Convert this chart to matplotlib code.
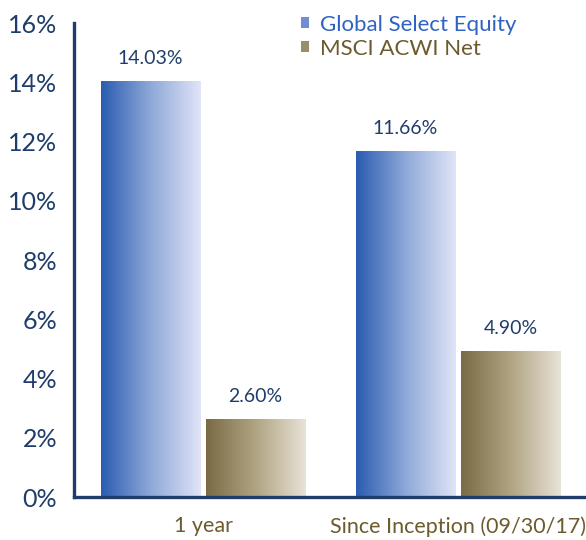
import numpy as np
import matplotlib
matplotlib.use("Agg")
import matplotlib.pyplot as plt
from matplotlib.colors import LinearSegmentedColormap
from matplotlib.patches import Patch

# data
categories = ["1 year", "Since Inception (09/30/17)"]
series_names = ["Global Select Equity", "MSCI ACWI Net"]
global_select = [14.03, 11.66]
msci_acwi = [2.60, 4.90]
yticks = [0, 2, 4, 6, 8, 10, 12, 14, 16]

navy = "#1f3d6b"
olive_text = "#6b5b2f"
blue_text = "#2f63c3"
blue_grad = LinearSegmentedColormap.from_list("b", ["#2a5cb0", "#8fa9d8", "#e0e4f7"])
olive_grad = LinearSegmentedColormap.from_list("o", ["#7a6b45", "#b0a482", "#e8e3d8"])

plt.rcParams["font.family"] = ["Lato", "DejaVu Sans"]

fig = plt.figure(figsize=(5.86, 5.40), dpi=100)
ax = fig.add_axes([0.1263, 0.0796, 0.8737, 0.8778])

x = np.arange(len(categories))
w = 0.392
off = 0.206
grad = np.linspace(0, 1, 256).reshape(1, -1)

for vals, sign, cmap in [(global_select, -1, blue_grad), (msci_acwi, 1, olive_grad)]:
    bars = ax.bar(x + sign * off, vals, w, color="none", edgecolor="none")
    for b, v in zip(bars, vals):
        x0, x1 = b.get_x(), b.get_x() + b.get_width()
        ax.imshow(grad, cmap=cmap, aspect="auto", extent=(x0, x1, 0, v), zorder=2)
        ax.text(b.get_x() + b.get_width() / 2, v + 0.5, f"{v:.2f}%",
                ha="center", va="bottom", fontsize=14, color=navy)

ax.set_xlim(-0.506, 1.502)
ax.set_ylim(0, 16)
ax.set_yticks(yticks)
ax.set_yticklabels([f"{t}%" for t in yticks], fontsize=18, color=navy)
ax.set_xticks(x)
ax.set_xticklabels(categories, fontsize=15.5, color=olive_text)
ax.tick_params(axis="both", length=0)
ax.tick_params(axis="y", pad=12)
ax.tick_params(axis="x", pad=14)

for s in ["top", "right"]:
    ax.spines[s].set_visible(False)
for s in ["left", "bottom"]:
    ax.spines[s].set_color(navy)
    ax.spines[s].set_linewidth(2.4)

handles = [Patch(facecolor="#6f8fcf", edgecolor="none"),
           Patch(facecolor="#9a8e6e", edgecolor="none")]
leg = ax.legend(handles, series_names, loc="upper left", bbox_to_anchor=(0.405, 1.06),
                frameon=False, fontsize=16, handlelength=0.35, handleheight=0.35,
                handletextpad=0.5, labelspacing=0.18, labelcolor=[blue_text, olive_text])

fig.savefig("out.png", dpi=100)
